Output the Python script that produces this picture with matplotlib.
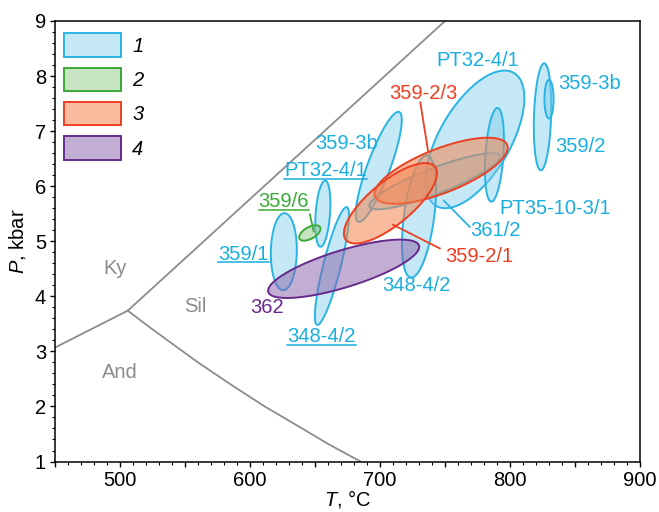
import numpy as np
import matplotlib
matplotlib.use('Agg')
import matplotlib.pyplot as plt
from matplotlib.patches import Patch
from matplotlib.ticker import MultipleLocator
from matplotlib.colors import to_rgba

# --- DATA ---
# uncertainty ellipses: centre T (°C), centre P (kbar), half-range T, half-range P, T-P correlation
ell_group = [1, 1, 1, 1, 1, 1, 1, 1, 1, 1, 2, 3, 3, 4]
ell_T = [626, 656, 663, 699, 773, 742, 788, 825, 830, 730, 646, 747, 708, 672]
ell_P = [4.81, 5.50, 4.55, 6.35, 6.85, 6.09, 6.57, 7.26, 7.58, 5.45, 5.15, 6.28, 5.69, 4.50]
ell_dT = [10, 5.8, 13.1, 17.7, 38, 50.3, 7.3, 6.7, 3.5, 13.1, 8.2, 51.2, 35.8, 58.1]
ell_dP = [0.70, 0.60, 1.07, 1.00, 1.25, 0.51, 0.85, 0.97, 0.35, 1.11, 0.14, 0.60, 0.73, 0.53]
ell_rho = [0.05, 0.3, 0.85, 0.85, 0.6, 0.87, 0.32, 0.19, 0.0, 0.45, 0.55, 0.70, 0.75, 0.75]

# sample labels: text, T, P, horizontal alignment, group, underlined
lab_text = ['PT32-4/1', '359-3b', '359/2', 'PT35-10-3/1', '361/2', '359-2/1', '348-4/2',
            '348-4/2', '362', '359/1', '359/6', 'PT32-4/1', '359-3b', '359-2/3']
lab_T = [775, 837, 835, 792, 769, 750, 728, 655, 613, 595, 626, 658, 674, 733]
lab_P = [8.29, 7.87, 6.72, 5.60, 5.20, 4.72, 4.19, 3.27, 3.80, 4.76, 5.72, 6.28, 6.78, 7.69]
lab_ha = ['center', 'left', 'left', 'left', 'left', 'left', 'center',
          'center', 'center', 'center', 'center', 'center', 'center', 'center']
lab_group = [1, 1, 1, 1, 1, 3, 1, 1, 4, 1, 2, 1, 1, 3]
lab_under = [False, False, False, False, False, False, False,
             True, False, True, True, True, False, False]

# leader lines: (T0, P0) -> (T1, P1)
lead_T0 = [731, 769, 746, 646]
lead_P0 = [7.52, 5.26, 4.87, 5.49]
lead_T1 = [737, 749, 710, 649]
lead_P1 = [6.63, 5.74, 5.30, 5.18]
lead_group = [3, 1, 3, 2]

# aluminosilicate phase boundaries
ky_and_T = [450, 506]
ky_and_P = [3.07, 3.74]
ky_sil_T = [506, 750]
ky_sil_P = [3.74, 9.0]
and_sil_T = [506, 521, 536, 560, 587, 612, 638, 660, 685]
and_sil_P = [3.74, 3.47, 3.21, 2.80, 2.37, 1.99, 1.63, 1.32, 1.0]
phase_names = ['Ky', 'Sil', 'And']
phase_T = [496, 558, 500]
phase_P = [4.51, 3.81, 2.61]

legend_labels = ['1', '2', '3', '4']

# --- STYLE ---
plt.rcParams['font.family'] = ['Liberation Sans', 'DejaVu Sans']
plt.rcParams['mathtext.fontset'] = 'custom'
plt.rcParams['mathtext.it'] = 'Liberation Sans:italic'
plt.rcParams['mathtext.rm'] = 'Liberation Sans'
fs = 14.5

face = {1: ('#7ecced', 0.45), 2: ('#8fc886', 0.5), 3: ('#f5844f', 0.55), 4: ('#895fa9', 0.5)}
edge = {1: '#29b4e4', 2: '#3aa935', 3: '#ec3f22', 4: '#672a8c'}
text_col = {1: '#1aaede', 2: '#3aa935', 3: '#ec3f22', 4: '#672a8c'}
grey = '#8c8c8c'

fig = plt.figure(figsize=(6.59, 5.12), dpi=100)
ax = fig.add_axes([0.0835, 0.0986, 0.8877, 0.8604])

# --- PHASE DIAGRAM ---
for tt, pp in [(ky_and_T, ky_and_P), (ky_sil_T, ky_sil_P), (and_sil_T, and_sil_P)]:
    ax.plot(tt, pp, color=grey, lw=1.3, zorder=1)
for name, tt, pp in zip(phase_names, phase_T, phase_P):
    ax.text(tt, pp, name, color=grey, fontsize=fs, ha='center', va='center')

# --- ELLIPSES --- blue first, then green, orange, purple on top
t = np.linspace(0, 2 * np.pi, 300)
order = sorted(range(len(ell_T)), key=lambda i: ell_group[i])
for i in order:
    g = ell_group[i]
    x = ell_T[i] + ell_dT[i] * np.cos(t)
    y = ell_P[i] + ell_dP[i] * (ell_rho[i] * np.cos(t) + np.sqrt(1 - ell_rho[i] ** 2) * np.sin(t))
    fc, a = face[g]
    ax.fill(x, y, facecolor=to_rgba(fc, a), edgecolor=edge[g], lw=1.4, zorder=2 + g)

# --- LABELS ---
for x0, y0, x1, y1, g in zip(lead_T0, lead_P0, lead_T1, lead_P1, lead_group):
    ax.plot([x0, x1], [y0, y1], color=edge[g], lw=1.3, zorder=8)

texts = []
for s, tt, pp, ha, g, u in zip(lab_text, lab_T, lab_P, lab_ha, lab_group, lab_under):
    tx = ax.text(tt, pp, s, color=text_col[g], fontsize=fs, ha=ha, va='center', zorder=9)
    texts.append((tx, g, u))

# --- AXES ---
ax.set_xlim(450, 900)
ax.set_ylim(1, 9)
ax.xaxis.set_minor_locator(MultipleLocator(10))
ax.yaxis.set_major_locator(MultipleLocator(1))
ax.yaxis.set_minor_locator(MultipleLocator(0.2))
ax.set_xticks(np.arange(450, 901, 50))
ax.set_xticklabels(['' if v % 100 else str(v) for v in np.arange(450, 901, 50)])
ax.tick_params(which='major', direction='out', length=3.5, width=1, labelsize=fs, pad=3)
ax.tick_params(which='minor', direction='out', length=2, width=0.8)
for sp in ax.spines.values():
    sp.set_linewidth(1.1)
ax.set_xlabel('$T$, °C', fontsize=fs, labelpad=-1)
ax.set_ylabel('$P$, kbar', fontsize=fs, labelpad=5)

# --- LEGEND ---
handles = [Patch(facecolor=to_rgba(face[g][0], face[g][1]), edgecolor=edge[g], lw=1.4)
           for g in [1, 2, 3, 4]]
ax.legend(handles, legend_labels, loc='upper left', bbox_to_anchor=(0.015, 0.972),
          frameon=False, borderpad=0, borderaxespad=0, handlelength=2.85, handleheight=1.4,
          labelspacing=0.55, handletextpad=0.55, prop={'style': 'italic', 'size': fs})

# --- UNDERLINES ---
fig.canvas.draw()
inv = ax.transData.inverted()
for tx, g, u in texts:
    if not u:
        continue
    bb = tx.get_window_extent()
    (xa, ya), (xb, yb) = inv.transform([(bb.x0, bb.y0 + 1.5), (bb.x1, bb.y0 + 1.5)])
    ax.plot([xa, xb], [ya, yb], color=text_col[g], lw=1.1, zorder=9)

plt.savefig('out.png', dpi=100)
